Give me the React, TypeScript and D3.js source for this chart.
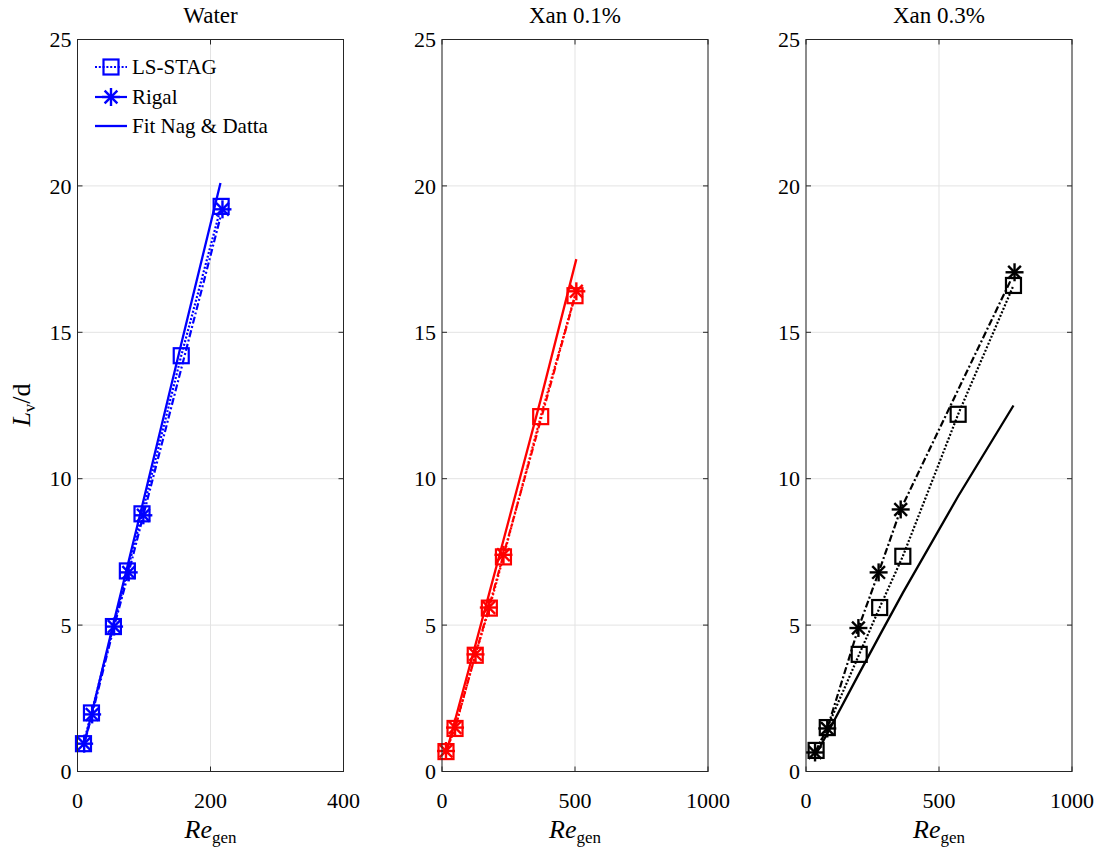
import React from "react";
import * as d3 from "d3";

// ---------- Data ----------
const panelTitles = ["Water", "Xan 0.1%", "Xan 0.3%"];
const panelColors = ["#0000ff", "#ff0000", "#000000"];
const xMaxes = [400, 1000, 1000];
const xTicksWater = [0, 200, 400];
const xTicksXan = [0, 500, 1000];
const yTicks = [0, 5, 10, 15, 20, 25];

// Water
const waterLsRe = [9, 21, 54, 75, 97, 156, 216];
const waterLsL = [0.95, 2.0, 4.95, 6.85, 8.8, 14.2, 19.3];
const waterRigalRe = [10, 22, 55, 77, 99, 218];
const waterRigalL = [0.95, 1.95, 4.95, 6.8, 8.75, 19.2];
const waterFitRe = [9, 21, 54, 75, 97, 156, 215];
const waterFitL = [0.85, 1.95, 5.05, 7.0, 9.05, 14.6, 20.1];

// Xan 0.1%
const xan1LsRe = [15, 49, 125, 178, 231, 371, 500];
const xan1LsL = [0.68, 1.47, 3.97, 5.58, 7.33, 12.12, 16.25];
const xan1RigalRe = [15, 49, 126, 176, 231, 505];
const xan1RigalL = [0.7, 1.5, 4.0, 5.6, 7.4, 16.4];
const xan1FitRe = [15, 49, 125, 178, 231, 371, 505];
const xan1FitL = [0.6, 1.75, 4.3, 6.1, 7.9, 12.7, 17.5];

// Xan 0.3%
const xan3LsRe = [38, 80, 200, 277, 364, 572, 780];
const xan3LsL = [0.72, 1.5, 4.0, 5.6, 7.35, 12.2, 16.6];
const xan3RigalRe = [34, 80, 197, 273, 356, 784];
const xan3RigalL = [0.65, 1.47, 4.9, 6.8, 8.95, 17.05];
const xan3FitRe = [38, 80, 200, 280, 364, 572, 780];
const xan3FitL = [0.6, 1.3, 3.35, 4.7, 6.1, 9.4, 12.5];

const legendLabels = ["LS-STAG", "Rigal", "Fit Nag & Datta"];

// ---------- Layout ----------
const W = 1113;
const H = 852;
const panelLefts = [77.5, 442, 806];
const panelW = 266;
const top = 39.5;
const bottom = 771.5;

const FONT = "'Liberation Serif', 'Times New Roman', 'DejaVu Serif', serif";
const AXIS = "#262626";
const GRID = "#e3e3e3";

type Series = { re: number[]; l: number[] };
const panels: { ls: Series; rigal: Series; fit: Series; ticks: number[] }[] = [
  { ls: { re: waterLsRe, l: waterLsL }, rigal: { re: waterRigalRe, l: waterRigalL }, fit: { re: waterFitRe, l: waterFitL }, ticks: xTicksWater },
  { ls: { re: xan1LsRe, l: xan1LsL }, rigal: { re: xan1RigalRe, l: xan1RigalL }, fit: { re: xan1FitRe, l: xan1FitL }, ticks: xTicksXan },
  { ls: { re: xan3LsRe, l: xan3LsL }, rigal: { re: xan3RigalRe, l: xan3RigalL }, fit: { re: xan3FitRe, l: xan3FitL }, ticks: xTicksXan },
];

const txt = (size: number, extra: React.CSSProperties = {}): React.CSSProperties => ({
  fontFamily: FONT,
  fontSize: size,
  ...extra,
});

const Square = ({ x, y, c }: { x: number; y: number; c: string }) => (
  <rect x={x - 7.5} y={y - 7.5} width={15} height={15} fill="none" stroke={c} strokeWidth={2.2} />
);

const Star = ({ x, y, c }: { x: number; y: number; c: string }) => {
  const r = 9;
  const d = r * 0.7071;
  return (
    <g stroke={c} strokeWidth={2.4}>
      <line x1={x - r} y1={y} x2={x + r} y2={y} />
      <line x1={x} y1={y - r} x2={x} y2={y + r} />
      <line x1={x - d} y1={y - d} x2={x + d} y2={y + d} />
      <line x1={x - d} y1={y + d} x2={x + d} y2={y - d} />
    </g>
  );
};

function Panel({ i }: { i: number }) {
  const p = panels[i];
  const c = panelColors[i];
  const left = panelLefts[i];
  const right = left + panelW;
  const x = d3.scaleLinear().domain([0, xMaxes[i]]).range([left, right]);
  const y = d3.scaleLinear().domain([0, 25]).range([bottom, top]);
  const line = (s: Series) =>
    d3
      .line<number>()
      .x((_, k) => x(s.re[k]))
      .y((_, k) => y(s.l[k]))(s.l) || "";
  const tickLen = 5;
  return (
    <g>
      {yTicks.map((t) => (
        <line key={"gy" + t} x1={left} x2={right} y1={y(t)} y2={y(t)} stroke={GRID} strokeWidth={1} />
      ))}
      {p.ticks.map((t) => (
        <line key={"gx" + t} x1={x(t)} x2={x(t)} y1={top} y2={bottom} stroke={GRID} strokeWidth={1} />
      ))}
      <path d={line(p.fit)} fill="none" stroke={c} strokeWidth={2.3} />
      <path d={line(p.rigal)} fill="none" stroke={c} strokeWidth={2.2} strokeDasharray="7,2.5,2,2.5" />
      <path d={line(p.ls)} fill="none" stroke={c} strokeWidth={2.2} strokeDasharray="2,1.8" />
      {p.ls.re.map((r, k) => (
        <Square key={"s" + k} x={x(r)} y={y(p.ls.l[k])} c={c} />
      ))}
      {p.rigal.re.map((r, k) => (
        <Star key={"r" + k} x={x(r)} y={y(p.rigal.l[k])} c={c} />
      ))}
      <rect x={left} y={top} width={panelW} height={bottom - top} fill="none" stroke={AXIS} strokeWidth={1} />
      {yTicks.map((t) => (
        <g key={"ty" + t}>
          <line x1={left} x2={left + tickLen} y1={y(t)} y2={y(t)} stroke={AXIS} />
          <line x1={right} x2={right - tickLen} y1={y(t)} y2={y(t)} stroke={AXIS} />
          <text x={left - 6} y={y(t)} dy="0.35em" textAnchor="end" style={txt(22)} fill="#000">
            {t}
          </text>
        </g>
      ))}
      {p.ticks.map((t) => (
        <g key={"tx" + t}>
          <line x1={x(t)} x2={x(t)} y1={bottom} y2={bottom - tickLen} stroke={AXIS} />
          <line x1={x(t)} x2={x(t)} y1={top} y2={top + tickLen} stroke={AXIS} />
          <text x={x(t)} y={800} dy="0.35em" textAnchor="middle" style={txt(22)} fill="#000">
            {t}
          </text>
        </g>
      ))}
      <text x={(left + right) / 2} y={23} textAnchor="middle" style={txt(23)} fill="#000">
        {panelTitles[i]}
      </text>
      <text x={(left + right) / 2} y={838} textAnchor="middle" style={txt(26)} fill="#000">
        <tspan style={{ fontStyle: "italic" }}>Re</tspan>
        <tspan style={{ fontSize: 17 }} dy={5}>gen</tspan>
      </text>
    </g>
  );
}

export default function App() {
  const lx1 = 95;
  const lx2 = 127;
  const ly = [67, 97, 126];
  const legendColor = panelColors[0];
  return (
    <svg width={W} height={H} style={{ position: "absolute", left: 0, top: 0, background: "#fff" }}>
      <rect x={0} y={0} width={W} height={H} fill="#fff" />
      {panels.map((_, i) => (
        <Panel key={i} i={i} />
      ))}
      <g>
        <line x1={lx1} x2={lx2} y1={ly[0]} y2={ly[0]} stroke={legendColor} strokeWidth={2.2} strokeDasharray="2,1.8" />
        <Square x={(lx1 + lx2) / 2} y={ly[0]} c={legendColor} />
        <line x1={lx1} x2={lx2} y1={ly[1]} y2={ly[1]} stroke={legendColor} strokeWidth={2.2} />
        <Star x={(lx1 + lx2) / 2} y={ly[1]} c={legendColor} />
        <line x1={lx1} x2={lx2} y1={ly[2]} y2={ly[2]} stroke={legendColor} strokeWidth={2.3} />
        {legendLabels.map((s, k) => (
          <text key={s} x={132} y={ly[k]} dy="0.35em" style={txt(21)} fill="#000">
            {s}
          </text>
        ))}
      </g>
      <text transform="translate(30,405) rotate(-90)" textAnchor="middle" style={txt(26)} fill="#000">
        <tspan style={{ fontStyle: "italic" }}>L</tspan>
        <tspan style={{ fontSize: 17 }} dy={5}>v</tspan>
        <tspan dy={-5}>/d</tspan>
      </text>
    </svg>
  );
}
